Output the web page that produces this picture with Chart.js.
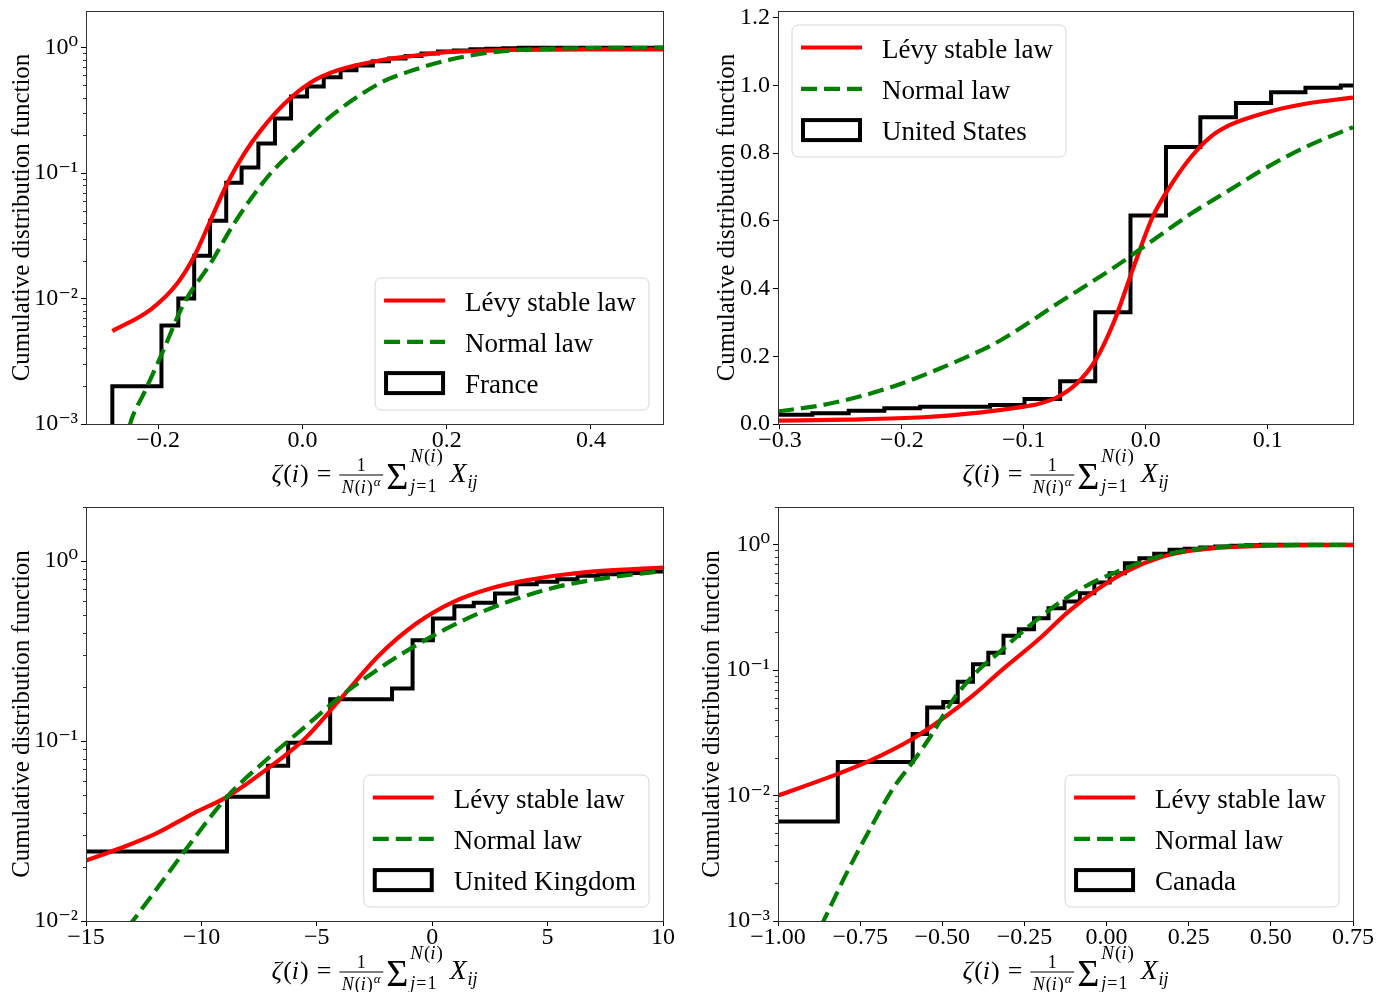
<!DOCTYPE html>
<html>
<head>
<meta charset="utf-8">
<script src="https://cdn.jsdelivr.net/npm/chart.js@4.4.1/dist/chart.umd.min.js"></script>
<style>
  body { margin: 0; background: #fff; overflow: hidden; }
  #fig { position: relative; width: 1390px; height: 992px; }
  #fig canvas { position: absolute; }
</style>
</head>
<body>
<div id="fig">
  <canvas id="france" width="695" height="496" style="left:0;top:0"></canvas>
  <canvas id="usa" width="695" height="496" style="left:695px;top:0"></canvas>
  <canvas id="uk" width="695" height="496" style="left:0;top:496px"></canvas>
  <canvas id="canada" width="695" height="496" style="left:695px;top:496px"></canvas>
</div>
<script>
/* global Chart */

var serif = '"Liberation Serif", "DejaVu Serif", serif'
Chart.defaults.font.family = serif
Chart.defaults.color = '#000'

// France (log y)
var franceEdges = [-0.2635, -0.2635, -0.1954, -0.172, -0.150, -0.128, -0.1056, -0.0843, -0.061, -0.038, -0.0157, 0.0065, 0.0296, 0.053, 0.075, 0.0977, 0.120, 0.143, 0.165, 0.188, 0.210, 0.233, 0.255, 0.278, 0.300, 0.500]
var franceCdf = [0.0001, 0.0020, 0.0061, 0.0100, 0.0219, 0.0418, 0.0838, 0.111, 0.172, 0.272, 0.408, 0.490, 0.580, 0.660, 0.720, 0.780, 0.820, 0.860, 0.900, 0.930, 0.950, 0.970, 0.980, 0.990, 1.000, 1.000]
var franceLevyX = [-0.2635, -0.210, -0.173, -0.150, -0.127, -0.104, -0.0806, -0.0574, -0.025, 0.012, 0.049, 0.107, 0.153, 0.200, 0.290, 0.400, 0.500]
var franceLevyY = [0.0055, 0.0082, 0.0133, 0.0217, 0.0424, 0.083, 0.143, 0.220, 0.357, 0.530, 0.660, 0.790, 0.860, 0.920, 0.960, 0.970, 0.970]
var franceNormX = [-0.240, -0.2356, -0.219, -0.196, -0.164, -0.127, -0.0944, -0.048, -0.002, 0.044, 0.110, 0.153, 0.200, 0.246, 0.290, 0.385, 0.500]
var franceNormY = [0.00095, 0.00114, 0.00179, 0.0035, 0.0092, 0.0192, 0.0399, 0.0935, 0.172, 0.298, 0.530, 0.660, 0.790, 0.890, 0.950, 0.990, 1.000]
var franceXTicks = [-0.2, 0, 0.2, 0.4]

// United States (linear y)
var usEdges = [-0.33, -0.2734, -0.2436, -0.2144, -0.185, -0.1276, -0.0994, -0.0702, -0.0414, -0.0125, 0.0166, 0.0448, 0.074, 0.1028, 0.131, 0.160, 0.19]
var usCdf = [0.0276, 0.0315, 0.0394, 0.0463, 0.0512, 0.0562, 0.0739, 0.126, 0.330, 0.616, 0.818, 0.906, 0.948, 0.980, 0.993, 1.000, 1.000]
var usLevyX = [-0.3016, -0.245, -0.1824, -0.135, -0.104, -0.0884, -0.0727, -0.057, -0.0414, -0.0257, -0.010, 0.0056, 0.0213, 0.037, 0.0527, 0.0683, 0.0997, 0.131, 0.170]
var usLevyY = [0.010, 0.013, 0.020, 0.0345, 0.049, 0.059, 0.079, 0.118, 0.187, 0.305, 0.463, 0.611, 0.709, 0.788, 0.847, 0.882, 0.921, 0.946, 0.964]
var usNormX = [-0.3016, -0.2608, -0.2138, -0.1668, -0.1197, -0.0727, -0.0257, 0.0056, 0.037, 0.0683, 0.0997, 0.131, 0.170]
var usNormY = [0.037, 0.059, 0.103, 0.167, 0.246, 0.355, 0.463, 0.542, 0.621, 0.690, 0.759, 0.818, 0.877]
var usXTicks = [-0.3, -0.2, -0.1, 0, 0.1]
var usYTicks = [0, 0.2, 0.4, 0.6, 0.8, 1.0, 1.2]

// United Kingdom (log y)
var ukEdges = [-16, -8.89, -7.12, -6.24, -4.42, -1.74, -0.85, 0.03, 0.96, 1.80, 2.72, 3.65, 4.53, 5.42, 6.30, 7.20, 8.10, 9.00, 11]
var ukCdf = [0.0243, 0.049, 0.073, 0.098, 0.171, 0.196, 0.364, 0.480, 0.562, 0.587, 0.661, 0.745, 0.768, 0.794, 0.829, 0.845, 0.860, 0.875, 0.875]
var ukLevyX = [-15.03, -13.55, -11.95, -10.34, -8.89, -7.12, -5.51, -3.90, -2.30, -0.69, 0.92, 2.52, 4.13, 5.74, 7.35, 10.0]
var ukLevyY = [0.0216, 0.0253, 0.0307, 0.0397, 0.049, 0.0705, 0.1035, 0.176, 0.300, 0.450, 0.594, 0.705, 0.784, 0.843, 0.883, 0.922]
var ukNormX = [-13.2, -12.9, -11.95, -10.34, -8.89, -7.12, -5.51, -3.90, -2.30, -0.69, 0.92, 2.52, 4.13, 5.74, 7.35, 10.0]
var ukNormY = [0.0092, 0.0103, 0.0150, 0.0285, 0.049, 0.080, 0.120, 0.180, 0.253, 0.341, 0.441, 0.546, 0.647, 0.736, 0.800, 0.883]
var ukXTicks = [-15, -10, -5, 0, 5, 10]

// Canada (log y)
var caEdges = [-1.1, -0.818, -0.590, -0.546, -0.497, -0.453, -0.4066, -0.360, -0.3137, -0.267, -0.2207, -0.1766, -0.1278, -0.0813, -0.0372, 0.0093, 0.0558, 0.0999, 0.145, 0.1917, 0.238, 0.285, 0.331, 0.378, 0.424, 0.470, 0.8]
var caCdf = [0.0062, 0.0185, 0.031, 0.0503, 0.0558, 0.0807, 0.1117, 0.1376, 0.188, 0.212, 0.259, 0.311, 0.352, 0.410, 0.500, 0.593, 0.713, 0.782, 0.847, 0.912, 0.930, 0.950, 0.970, 0.980, 0.990, 1.000, 1.000]
var caLevyX = [-1.0, -0.818, -0.72, -0.59, -0.4995, -0.4066, -0.3137, -0.209, -0.116, -0.023, 0.0697, 0.1626, 0.2556, 0.3717, 0.546, 0.75]
var caLevyY = [0.010, 0.0149, 0.019, 0.0284, 0.041, 0.063, 0.103, 0.174, 0.293, 0.450, 0.630, 0.790, 0.895, 0.957, 0.990, 0.995]
var caNormX = [-0.87, -0.854, -0.79, -0.72, -0.6506, -0.59, -0.5344, -0.4647, -0.395, -0.325, -0.232, -0.139, -0.0465, 0.0465, 0.139, 0.256, 0.372, 0.55, 0.75]
var caNormY = [0.0009, 0.0011, 0.00244, 0.0054, 0.0113, 0.0185, 0.030, 0.0593, 0.097, 0.140, 0.229, 0.352, 0.494, 0.631, 0.782, 0.912, 0.970, 0.995, 1.000]
var caXTicks = [-1, -0.75, -0.5, -0.25, 0, 0.25, 0.5, 0.75]

var logYTicks = [0.001, 0.01, 0.1, 1]

var SUP = { '0': '\u2070', '1': '\u00b9', '2': '\u00b2', '3': '\u00b3', '-': '\u207b' }
function logLabel (v) {
  var e = Math.round(Math.log10(v))
  return '10' + String(e).split('').map(c => SUP[c]).join('')
}
function numLabel (digits) {
  return function (v) {
    return (v < -1e-9 ? '\u2212' : '') + Math.abs(v).toFixed(digits)
  }
}
function pts (xs, ys) { return xs.map((x, i) => ({ x: x, y: ys[i] })) }

// runs are [text, font, dy, gapAfter]
function drawRuns (ctx, runs, x, y, draw) {
  runs.forEach(r => {
    ctx.font = r[1]
    if (draw) ctx.fillText(r[0], x, y + (r[2] || 0))
    x += ctx.measureText(r[0]).width + (r[3] || 0)
  })
  return x
}

// x label: zeta(i) = 1/N(i)^alpha sum_{j=1}^{N(i)} X_ij
function drawFormula (ctx, cx, base) {
  var it = s => 'italic ' + s + 'px ' + serif
  var rm = s => s + 'px ' + serif
  var lead = [['\u03b6', it(26), 0, 1], ['(', rm(26)], ['i', it(26), 0, 1], [')', rm(26), 0, 8], ['=', rm(26), 0, 8]]
  var num = [['1', rm(18)]]
  var den = [['N', it(18), 0, 1], ['(', rm(18)], ['i', it(18), 0, 1], [')', rm(18), 0, 1], ['\u03b1', it(13), -7]]
  var sig = [['\u03a3', rm(38)]]
  var sup = [['N', it(19), 0, 1], ['(', rm(19)], ['i', it(19), 0, 1], [')', rm(19)]]
  var sub = [['j', it(18), 0, 1], ['=', rm(18), 0, 1], ['1', rm(18)]]
  var tail = [['X', it(27)]]
  var tsub = [['ij', it(18)]]
  var w = r => drawRuns(ctx, r, 0, 0, false)
  var wLead = w(lead)
  var wNum = w(num)
  var wDen = w(den)
  var wSig = w(sig)
  var wLim = Math.max(w(sup), w(sub))
  var wTail = w(tail)
  var wTsub = w(tsub)
  var wFrac = Math.max(wNum, wDen) + 5
  var total = wLead + wFrac + 3 + wSig + 2 + wLim + 7 + wTail + 1 + wTsub
  var x = cx - total / 2
  ctx.fillStyle = '#000'
  ctx.textBaseline = 'alphabetic'
  x = drawRuns(ctx, lead, x, base, true)
  drawRuns(ctx, num, x + (wFrac - wNum) / 2, base - 11, true)
  drawRuns(ctx, den, x + (wFrac - wDen) / 2, base + 11, true)
  ctx.fillRect(x, base - 7.5, wFrac, 1)
  x += wFrac + 3
  x = drawRuns(ctx, sig, x, base + 7, true) + 2
  drawRuns(ctx, sup, x, base - 20, true)
  drawRuns(ctx, sub, x, base + 10, true)
  x += wLim + 7
  x = drawRuns(ctx, tail, x, base, true) + 1
  drawRuns(ctx, tsub, x, base + 6, true)
}

function drawLegend (chart, corner) {
  var ctx = chart.ctx
  var a = chart.chartArea
  var ds = chart.data.datasets
  ctx.font = '27px ' + serif
  var tw = Math.max.apply(null, ds.map(d => ctx.measureText(d.label).width))
  var w = 90 + tw + 13
  var h = 132
  var x0 = corner.indexOf('right') >= 0 ? a.right - 14 - w : a.left + 14
  var y0 = corner.indexOf('lower') >= 0 ? a.bottom - 14 - h : a.top + 14
  var r = 6
  ctx.beginPath()
  ctx.moveTo(x0 + r, y0)
  ctx.arcTo(x0 + w, y0, x0 + w, y0 + h, r)
  ctx.arcTo(x0 + w, y0 + h, x0, y0 + h, r)
  ctx.arcTo(x0, y0 + h, x0, y0, r)
  ctx.arcTo(x0, y0, x0 + w, y0, r)
  ctx.closePath()
  ctx.fillStyle = 'rgba(255,255,255,0.8)'
  ctx.fill()
  ctx.strokeStyle = '#d6d6d6'
  ctx.lineWidth = 1
  ctx.stroke()
  ds.forEach((d, i) => {
    var cy = y0 + 22.5 + i * 41.3
    var hx = x0 + 9
    ctx.save()
    ctx.strokeStyle = d.borderColor
    if (d.stepped) {
      ctx.lineWidth = 4
      ctx.strokeRect(hx + 2, cy - 10, 57, 20)
    } else {
      ctx.lineWidth = d.borderWidth
      ctx.setLineDash(d.borderDash || [])
      ctx.beginPath()
      ctx.moveTo(hx, cy)
      ctx.lineTo(hx + 61, cy)
      ctx.stroke()
    }
    ctx.restore()
    ctx.fillStyle = '#000'
    ctx.textBaseline = 'alphabetic'
    ctx.font = '27px ' + serif
    ctx.fillText(d.label, x0 + 90, cy + 10)
  })
}

var decor = {
  id: 'decor',
  afterDraw (chart, args, o) {
    var ctx = chart.ctx
    var a = chart.chartArea
    var ys = chart.scales.y
    ctx.save()
    if (ys.type === 'logarithmic') {
      ctx.strokeStyle = '#000'
      ctx.lineWidth = 0.8
      for (var k = Math.floor(Math.log10(ys.min)); k <= Math.ceil(Math.log10(ys.max)); k++) {
        for (var m = 2; m <= 9; m++) {
          var v = m * Math.pow(10, k)
          if (v < ys.min || v > ys.max) continue
          var py = Math.round(ys.getPixelForValue(v)) + 0.5
          ctx.beginPath()
          ctx.moveTo(a.left - 3, py)
          ctx.lineTo(a.left, py)
          ctx.stroke()
        }
      }
    }
    ctx.strokeStyle = '#333'
    ctx.lineWidth = 1
    ctx.strokeRect(Math.round(a.left) + 0.5, Math.round(a.top) + 0.5, Math.round(a.right - a.left), Math.round(a.bottom - a.top))
    drawLegend(chart, o.corner)
    drawFormula(ctx, (a.left + a.right) / 2, a.bottom + 58)
    ctx.restore()
  }
}

function makePanel (id, p) {
  var canvas = document.getElementById(id)
  var W = canvas.width
  var H = canvas.height
  var tickGrid = { display: true, drawOnChartArea: false, drawTicks: true, tickLength: 5, tickColor: '#000', tickWidth: 1 }
  var datasets = [
    { label: 'L\u00e9vy stable law', data: pts(p.levyX, p.levyY), borderColor: '#ff0000', borderWidth: 4.2, cubicInterpolationMode: 'monotone', order: 1 },
    { label: 'Normal law', data: pts(p.normX, p.normY), borderColor: '#008000', borderWidth: 4.2, borderDash: [16, 7], cubicInterpolationMode: 'monotone', order: 0 },
    { label: p.name, data: pts(p.edges, p.cdf), borderColor: '#000', borderWidth: 4, stepped: true, borderJoinStyle: 'miter', order: 2 }
  ].map(d => Object.assign({ showLine: true, pointRadius: 0, fill: false, clip: 0 }, d))
  return new Chart(canvas, {
    type: 'scatter',
    data: { datasets: datasets },
    options: {
      responsive: false,
      animation: false,
      events: [],
      layout: { padding: { left: 0, top: p.area[1], right: W - p.area[2], bottom: 0 } },
      plugins: { legend: { display: false }, tooltip: { enabled: false }, decor: { corner: p.corner } },
      scales: {
        x: {
          type: 'linear',
          bounds: 'data',
          min: p.xMin,
          max: p.xMax,
          afterBuildTicks: s => { s.ticks = p.xTicks.map(v => ({ value: v })) },
          afterFit: s => { s.height = H - p.area[3]; s.paddingLeft = 0; s.paddingRight = 0 },
          ticks: { callback: p.xFmt, font: { size: 24 }, padding: -3, maxRotation: 0, autoSkip: false },
          grid: tickGrid,
          border: { display: false }
        },
        y: {
          type: p.yLog ? 'logarithmic' : 'linear',
          bounds: 'data',
          min: p.yMin,
          max: p.yMax,
          afterBuildTicks: s => { s.ticks = p.yTicks.map(v => ({ value: v })) },
          afterFit: s => { s.width = p.area[0]; s.paddingTop = 0; s.paddingBottom = 0 },
          ticks: { callback: p.yFmt, font: { size: 24 }, padding: 3, autoSkip: false },
          grid: tickGrid,
          border: { display: false },
          title: { display: true, text: 'Cumulative distribution function', font: { size: 25 }, padding: { top: p.titlePad, bottom: 0 } }
        }
      }
    },
    plugins: [decor]
  })
}

makePanel('france', {
  name: 'France', edges: franceEdges, cdf: franceCdf,
  levyX: franceLevyX, levyY: franceLevyY, normX: franceNormX, normY: franceNormY,
  xMin: -0.3, xMax: 0.5, xTicks: franceXTicks, xFmt: numLabel(1),
  yLog: true, yMin: 0.001, yMax: 1.96, yTicks: logYTicks, yFmt: logLabel,
  area: [86, 11, 663, 424], corner: 'lower right', titlePad: 7
})

makePanel('usa', {
  name: 'United States', edges: usEdges, cdf: usCdf,
  levyX: usLevyX, levyY: usLevyY, normX: usNormX, normY: usNormY,
  xMin: -0.3016, xMax: 0.170, xTicks: usXTicks, xFmt: numLabel(1),
  yLog: false, yMin: 0, yMax: 1.22, yTicks: usYTicks, yFmt: numLabel(1),
  area: [83, 11, 658, 424], corner: 'upper left', titlePad: 17
})

makePanel('uk', {
  name: 'United Kingdom', edges: ukEdges, cdf: ukCdf,
  levyX: ukLevyX, levyY: ukLevyY, normX: ukNormX, normY: ukNormY,
  xMin: -15, xMax: 10, xTicks: ukXTicks, xFmt: numLabel(0),
  yLog: true, yMin: 0.01, yMax: 2.0, yTicks: logYTicks, yFmt: logLabel,
  area: [86, 11, 663, 425], corner: 'lower right', titlePad: 7
})

makePanel('canada', {
  name: 'Canada', edges: caEdges, cdf: caCdf,
  levyX: caLevyX, levyY: caLevyY, normX: caNormX, normY: caNormY,
  xMin: -1, xMax: 0.75, xTicks: caXTicks, xFmt: numLabel(2),
  yLog: true, yMin: 0.001, yMax: 2.0, yTicks: logYTicks, yFmt: logLabel,
  area: [83, 11, 658, 425], corner: 'lower right', titlePad: 2
})
</script>
</body>
</html>
